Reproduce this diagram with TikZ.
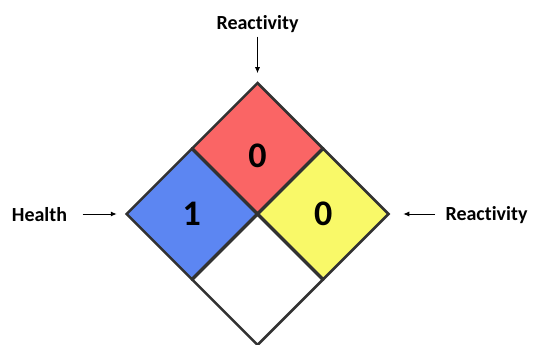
\documentclass[tikz,border=0pt]{standalone}
\usepackage{fontspec}
\setmainfont[Ligatures=NoCommon]{Carlito}
\usetikzlibrary{shapes.geometric,arrows.meta}

\begin{document}
\begin{tikzpicture}[x=1pt, y=-1pt, every node/.style={align=center}]
  % Define colors
  \definecolor{healthfill}{RGB}{92,134,242}
  \definecolor{reactfill}{RGB}{250,101,101}
  \definecolor{firefill}{RGB}{249,249,104}
  \definecolor{edgegray}{RGB}{50,50,50}
  \tikzset{
    square/.style={diamond, draw=edgegray, line width=2.5pt, inner sep=0pt,
      minimum width=131.5pt, minimum height=131.5pt},
    rating/.style={font=\fontsize{36}{40}\selectfont\bfseries},
    caption/.style={font=\fontsize{20}{24}\selectfont\bfseries},
    pointer/.style={-{Latex[length=6pt,width=5pt]}, line width=1pt}
  }

  \useasboundingbox (0,0) rectangle (533,345);

  % The four squares of the diamond
  \node[square, fill=reactfill] (reactsq) at (257.5,148.25) {};
  \node[square, fill=healthfill] (healthsq) at (191.75,214) {};
  \node[square, fill=firefill] (specsq) at (323.25,214) {};
  \node[square, fill=white] (basesq) at (257.5,279.75) {};

  % Ratings
  \node[rating] (reactnum) at ([yshift=-8pt]reactsq.center) {0};
  \node[rating] (healthnum) at (healthsq.center) {1};
  \node[rating] (specnum) at (specsq.center) {0};

  % Captions
  \node[caption, anchor=base] (reacttop) at (257.5,30) {Reactivity};
  \node[caption, anchor=base] (health) at (39.5,221) {Health};
  \node[caption, anchor=base] (reactright) at (486.5,220.5) {Reactivity};

  % Pointers to the corners
  \draw[pointer, shorten >=8pt] (reacttop.south) -- (reactsq.north);
  \draw[pointer, shorten <=12pt, shorten >=8pt] (health.east |- healthsq.west) -- (healthsq.west);
  \draw[pointer, shorten <=7pt, shorten >=13pt] (reactright.west |- specsq.east) -- (specsq.east);

\end{tikzpicture}
\end{document}
